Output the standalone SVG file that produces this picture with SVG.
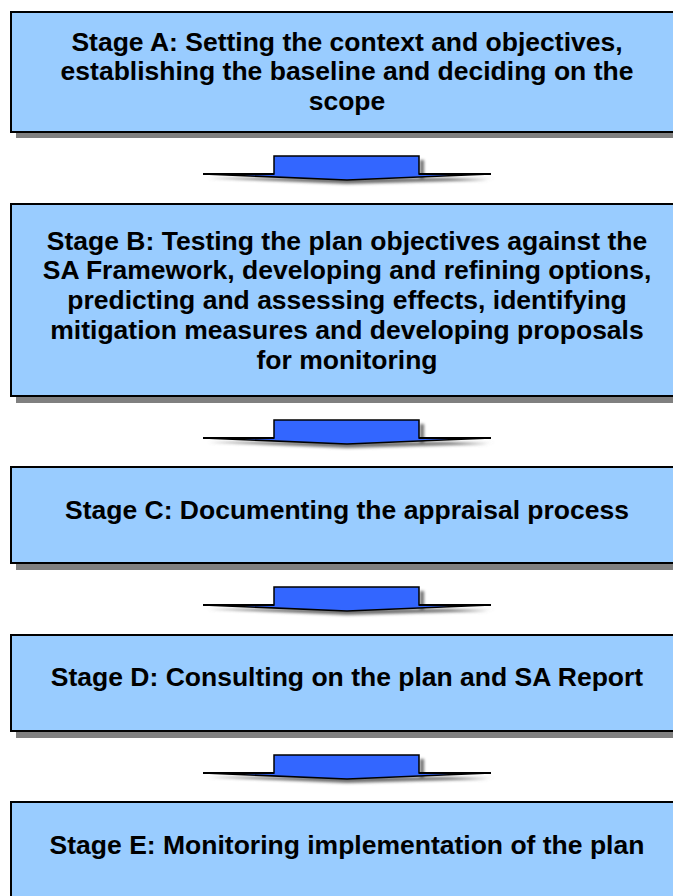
<svg xmlns="http://www.w3.org/2000/svg" width="673" height="896" viewBox="0 0 673 896">
  <defs>
    <style>
      .box { fill: #99CCFF; stroke: #000; stroke-width: 2; }
      .shadow { fill: #808080; }
      .label { font-family: "Liberation Sans", Arial, sans-serif; font-weight: bold; font-size: 26.5px; fill: #000; text-anchor: middle; }
      .arrow { fill: #3366FF; stroke: #000; stroke-width: 1.5; stroke-linejoin: miter; }
      .arrow-line { stroke: #000; stroke-width: 2; fill: none; }
      .arrow-shadow { fill: #707070; filter: url(#soft); }
    </style>
    <filter id="soft" x="-10%" y="-50%" width="120%" height="200%">
      <feGaussianBlur stdDeviation="1.5"/>
    </filter>
    <!-- block arrow pointing down, origin at the top-left of its body -->
    <g id="downArrow">
      <path class="arrow-shadow" d="M-66 22 L222 22 L146 23 L146 4 L150 4 L150 22 L215 24 L73 28 Z"/>
      <path class="arrow" d="M0 0 H145 V18 L217 18 L73 24 L-71 18 L0 18 Z"/>
      <line class="arrow-line" x1="-71" y1="18" x2="0" y2="18"/>
      <line class="arrow-line" x1="145" y1="18" x2="217" y2="18"/>
    </g>
  </defs>

  <rect width="673" height="896" fill="#fff"/>

  <g id="stageA">
    <rect class="shadow" x="16" y="17" width="670" height="121"/>
    <rect class="box" x="11" y="12" width="672" height="120"/>
    <text class="label" x="347" y="51">Stage A: Setting the context and objectives,</text>
    <text class="label" x="347" y="80">establishing the baseline and deciding on the</text>
    <text class="label" x="347" y="110">scope</text>
  </g>

  <g id="stageB">
    <rect class="shadow" x="16" y="209" width="670" height="194"/>
    <rect class="box" x="11" y="204" width="672" height="192"/>
    <text class="label" x="347" y="250">Stage B: Testing the plan objectives against the</text>
    <text class="label" x="347" y="279">SA Framework, developing and refining options,</text>
    <text class="label" x="347" y="309">predicting and assessing effects, identifying</text>
    <text class="label" x="347" y="339">mitigation measures and developing proposals</text>
    <text class="label" x="347" y="369">for monitoring</text>
  </g>

  <g id="stageC">
    <rect class="shadow" x="16" y="472" width="670" height="98"/>
    <rect class="box" x="11" y="467" width="672" height="96"/>
    <text class="label" x="347" y="519">Stage C: Documenting the appraisal process</text>
  </g>

  <g id="stageD">
    <rect class="shadow" x="16" y="640" width="670" height="98"/>
    <rect class="box" x="11" y="635" width="672" height="96"/>
    <text class="label" x="347" y="686">Stage D: Consulting on the plan and SA Report</text>
  </g>

  <g id="stageE">
    <rect class="box" x="11" y="802" width="672" height="110"/>
    <text class="label" x="347" y="854">Stage E: Monitoring implementation of the plan</text>
  </g>

  <g id="connectors">
    <use href="#downArrow" x="274" y="156"/>
    <use href="#downArrow" x="274" y="420"/>
    <use href="#downArrow" x="274" y="587"/>
    <use href="#downArrow" x="274" y="755"/>
  </g>
</svg>
